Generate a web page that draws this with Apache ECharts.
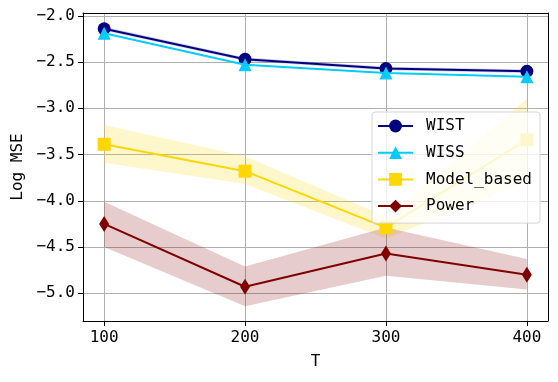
<!DOCTYPE html>
<html><head><meta charset="utf-8">
<script src="https://cdn.jsdelivr.net/npm/echarts@6/dist/echarts.min.js"></script>
<style>html,body{margin:0;padding:0;background:#fff}#c{width:558px;height:382px}</style>
</head><body><div id="c"></div>
<script>
const T = [100, 200, 300, 400];
const xTicks = [100, 200, 300, 400];
const yTicks = [-5.0, -4.5, -4.0, -3.5, -3.0, -2.5, -2.0];
const wist = [-2.14, -2.47, -2.57, -2.60];
const wistLo = [-2.16, -2.49, -2.59, -2.62];
const wistHi = [-2.12, -2.45, -2.55, -2.58];
const wiss = [-2.19, -2.53, -2.62, -2.66];
const model = [-3.39, -3.68, -4.29, -3.34];
const modelLo = [-3.59, -3.82, -4.41, -3.79];
const modelHi = [-3.18, -3.52, -4.17, -2.90];
const power = [-4.25, -4.93, -4.57, -4.80];
const powerLo = [-4.50, -5.14, -4.81, -4.96];
const powerHi = [-4.01, -4.71, -4.29, -4.63];

const FONT = "'DejaVu Sans Mono', monospace";
const THIN_DIAMOND = 'path://M0,-8L5,0L0,8L-5,0Z';
const chart = echarts.init(document.getElementById('c'), null, {renderer: 'canvas'});

function band(name, lo, hi, color, z) {
  return {
    type: 'custom', name: name + '_band', z: z, silent: true,
    data: T.map((t, i) => [t, lo[i], hi[i]]),
    renderItem: function (params, api) {
      if (params.dataIndex !== 0) return null;
      const pts = [];
      for (let i = 0; i < T.length; i++) pts.push(api.coord([T[i], hi[i]]));
      for (let i = T.length - 1; i >= 0; i--) pts.push(api.coord([T[i], lo[i]]));
      return {type: 'polygon', shape: {points: pts}, style: {fill: color}};
    }
  };
}
function line(name, vals, color, symbol, size, z) {
  return {
    type: 'line', name: name, z: z, data: T.map((t, i) => [t, vals[i]]),
    symbol: symbol, symbolSize: size, showAllSymbol: true, symbolKeepAspect: true,
    itemStyle: {color: color, opacity: 1},
    lineStyle: {color: color, width: 2},
    emphasis: {disabled: true}, animation: false
  };
}

const axisCommon = {
  axisLine: {show: true, onZero: false, lineStyle: {color: '#000', width: 1}},
  axisTick: {show: true, length: 5, lineStyle: {color: '#000'}},
  axisLabel: {color: '#000', fontFamily: FONT, fontSize: 16},
  splitLine: {show: true, lineStyle: {color: '#b0b0b0', width: 1}}
};

chart.setOption({
  animation: false,
  backgroundColor: '#fff',
  grid: {left: 83, right: 10, top: 13, bottom: 61},
  xAxis: [
    Object.assign({}, axisCommon, {
      type: 'value', min: 85, max: 415, name: 'T', nameLocation: 'middle', nameGap: 33,
      nameTextStyle: {color: '#000', fontFamily: FONT, fontSize: 16},
      axisTick: {show: true, length: 5, customValues: xTicks, lineStyle: {color: '#000'}},
      axisLabel: {color: '#000', fontFamily: FONT, fontSize: 16, margin: 9, customValues: xTicks}
    }),
    {type: 'value', min: 85, max: 415, position: 'top', axisLine: {show: true, onZero: false, lineStyle: {color: '#000'}},
     axisTick: {show: false}, axisLabel: {show: false}, splitLine: {show: false}}
  ],
  yAxis: [
    Object.assign({}, axisCommon, {
      type: 'value', min: -5.30, max: -1.97, name: 'Log MSE', nameLocation: 'middle', nameGap: 56,
      nameTextStyle: {color: '#000', fontFamily: FONT, fontSize: 16},
      axisTick: {show: true, length: 5, customValues: yTicks, lineStyle: {color: '#000'}},
      axisLabel: {color: '#000', fontFamily: FONT, fontSize: 16, margin: 8, customValues: yTicks,
                  formatter: v => (v < 0 ? '\u2212' : '') + Math.abs(v).toFixed(1)}
    }),
    {type: 'value', min: -5.30, max: -1.97, position: 'right', axisLine: {show: true, onZero: false, lineStyle: {color: '#000'}},
     axisTick: {show: false}, axisLabel: {show: false}, splitLine: {show: false}}
  ],
  legend: {
    data: ['WIST', 'WISS', 'Model_based', 'Power'],
    orient: 'vertical', right: 18, top: 112,
    padding: [6, 8, 9, 5], itemGap: 10.7, itemWidth: 35, itemHeight: 16,
    backgroundColor: 'rgba(255,255,255,0.8)', borderColor: '#d6d6d6', borderWidth: 1, borderRadius: 3,
    textStyle: {color: '#000', fontFamily: FONT, fontSize: 16, padding: [0, 0, 0, 8], lineHeight: 16},
    z: 20
  },
  series: [
    band('WIST', wistLo, wistHi, 'rgba(0,0,128,0.2)', 1),
    band('Model_based', modelLo, modelHi, 'rgba(255,215,0,0.2)', 1),
    band('Power', powerLo, powerHi, 'rgba(128,0,0,0.2)', 1),
    line('WIST', wist, '#000080', 'circle', 13, 3),
    line('WISS', wiss, '#00ccff', 'triangle', 13, 4),
    line('Model_based', model, '#ffd700', 'rect', 13, 5),
    line('Power', power, '#800000', THIN_DIAMOND, 16, 6)
  ]
});
</script></body></html>
